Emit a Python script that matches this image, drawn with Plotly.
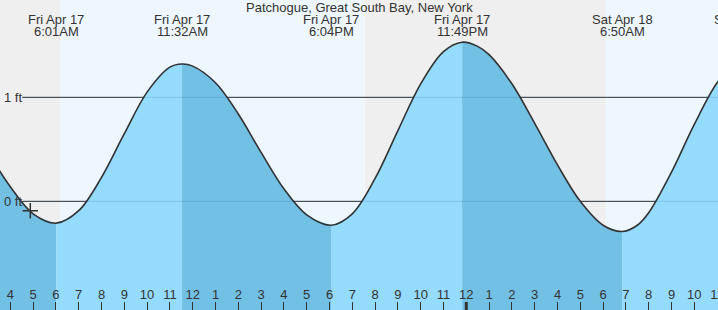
import plotly.graph_objects as go

# Hours since midnight of Fri Apr 17 (tide height in ft)
times = [3.0, 4.0, 5.0, 6.017, 7.0, 8.0, 9.0, 10.0, 11.0, 11.533, 12.0, 13.0, 14.0,
         15.0, 16.0, 17.0, 18.067, 19.0, 20.0, 21.0, 22.0, 23.0, 23.817, 24.5, 25.0,
         26.0, 27.0, 28.0, 29.0, 30.0, 30.833, 31.5, 32.0, 33.0, 34.0, 35.0, 35.6, 36.22]
heights = [0.48, 0.14, -0.12, -0.21, -0.09, 0.23, 0.65, 1.05, 1.29, 1.32, 1.30, 1.14, 0.84,
           0.47, 0.12, -0.13, -0.23, -0.12, 0.22, 0.68, 1.13, 1.44, 1.53, 1.49, 1.41,
           1.13, 0.75, 0.35, 0.00, -0.23, -0.29, -0.23, -0.11, 0.28, 0.74, 1.14, 1.28, 1.33]

# High / low tide events
ext_times = [6.017, 11.533, 18.067, 23.817, 30.833, 36.22]
ext_dates = ["Fri Apr 17", "Fri Apr 17", "Fri Apr 17", "Fri Apr 17", "Sat Apr 18", "Sat Apr 18"]
ext_labels = ["6:01AM", "11:32AM", "6:04PM", "11:49PM", "6:50AM", "12:13PM"]

# Sunrise / sunset
sunrise_1 = 6.18
sunset_1 = 19.543
sunrise_2 = 30.113

# Current time marker
now_time = 4.877
now_height = -0.09

# Axis
x_range = [3.548, 35.04]
y_range = [-1.045, 1.936]
tick_vals = list(range(4, 36))
tick_text = ["4", "5", "6", "7", "8", "9", "10", "11", "12", "1", "2", "3", "4", "5", "6",
             "7", "8", "9", "10", "11", "12", "1", "2", "3", "4", "5", "6", "7", "8", "9",
             "10", "11"]
grid_levels = [0, 1]
grid_labels = ["0 ft", "1 ft"]
midnight = 24

NIGHT = "#efefef"
DAY = "#eef7ff"
RISING = "#95dbfe"
FALLING = "#73c0e5"
INK = "#333333"
FONT = "Liberation Sans, Arial, sans-serif"
FS = 13

fig = go.Figure()

# water fill segments, split at each high/low
split_idx = [0] + [times.index(t) for t in ext_times if t in times]
for a, b in zip(split_idx[:-1], split_idx[1:]):
    xs = times[a:b + 1]
    ys = heights[a:b + 1]
    color = FALLING if ys[-1] < ys[0] else RISING
    fig.add_trace(go.Scatter(x=xs, y=[y_range[0]] * len(xs), mode="lines",
                             line=dict(width=0, color=color), hoverinfo="skip",
                             showlegend=False))
    fig.add_trace(go.Scatter(x=xs, y=ys, mode="lines", fill="tonexty", fillcolor=color,
                             line=dict(width=0, color=color, shape="spline"),
                             hoverinfo="skip", showlegend=False))

# tide curve
fig.add_trace(go.Scatter(x=times, y=heights, mode="lines",
                         line=dict(color=INK, width=1.6, shape="spline"),
                         showlegend=False))

# current-time marker
fig.add_trace(go.Scatter(x=[now_time], y=[now_height], mode="markers",
                         marker=dict(symbol="cross-thin", size=11,
                                     line=dict(color=INK, width=1.5)),
                         showlegend=False))

shapes = []
# night / day backgrounds
for x0, x1, c in [(x_range[0], sunrise_1, NIGHT), (sunrise_1, sunset_1, DAY),
                  (sunset_1, sunrise_2, NIGHT), (sunrise_2, x_range[1], DAY)]:
    shapes.append(dict(type="rect", xref="x", yref="paper", x0=x0, x1=x1, y0=0, y1=1,
                       fillcolor=c, line=dict(width=0), layer="below"))
# grid lines (dark in sky, faint over water)
for g in grid_levels:
    shapes.append(dict(type="line", xref="paper", yref="y", x0=0.031, x1=1, y0=g, y1=g,
                       line=dict(color=INK, width=1), layer="below"))
    shapes.append(dict(type="line", xref="paper", yref="y", x0=0.031, x1=1, y0=g, y1=g,
                       line=dict(color="rgba(0,60,120,0.15)", width=1), layer="above"))
# heavier midnight tick
shapes.append(dict(type="line", xref="x", yref="paper", ysizemode="pixel", yanchor=0,
                   x0=midnight, x1=midnight, y0=0, y1=8,
                   line=dict(color=INK, width=3), layer="above"))

annotations = [dict(text="Patchogue, Great South Bay, New York", xref="paper", yref="paper",
                    x=0.5, y=1 - 7.5 / 310, xanchor="center", yanchor="middle",
                    showarrow=False, font=dict(family=FONT, size=FS, color=INK))]
span = x_range[1] - x_range[0]
for t, d, lab in zip(ext_times, ext_dates, ext_labels):
    px = (t - x_range[0]) / span
    for txt, ypx in [(d, 19.3), (lab, 31.5)]:
        annotations.append(dict(text=txt, xref="paper", yref="paper", x=px,
                                y=1 - ypx / 310, xanchor="center", yanchor="middle",
                                showarrow=False,
                                font=dict(family=FONT, size=FS, color=INK)))
for g, lab in zip(grid_levels, grid_labels):
    annotations.append(dict(text=lab, xref="paper", yref="y", x=0.003, y=g,
                            xanchor="left", yanchor="middle", showarrow=False,
                            font=dict(family=FONT, size=FS, color=INK)))

fig.update_layout(
    width=718, height=310,
    margin=dict(l=0, r=0, t=0, b=0, pad=0, autoexpand=False),
    paper_bgcolor="white", plot_bgcolor="white",
    shapes=shapes, annotations=annotations,
    xaxis=dict(range=x_range, tickvals=tick_vals, ticktext=tick_text,
               ticks="inside", ticklen=8, tickwidth=1, tickcolor=INK,
               ticklabelposition="inside", ticklabeloverflow="allow",
               automargin=False,
               showgrid=False, zeroline=False,
               showline=False, tickfont=dict(family=FONT, size=FS, color=INK),
               fixedrange=True),
    yaxis=dict(range=y_range, showticklabels=False, showgrid=False, zeroline=False,
               showline=False, ticks="", fixedrange=True, automargin=False),
    showlegend=False,
)

fig.write_html("out.html")
